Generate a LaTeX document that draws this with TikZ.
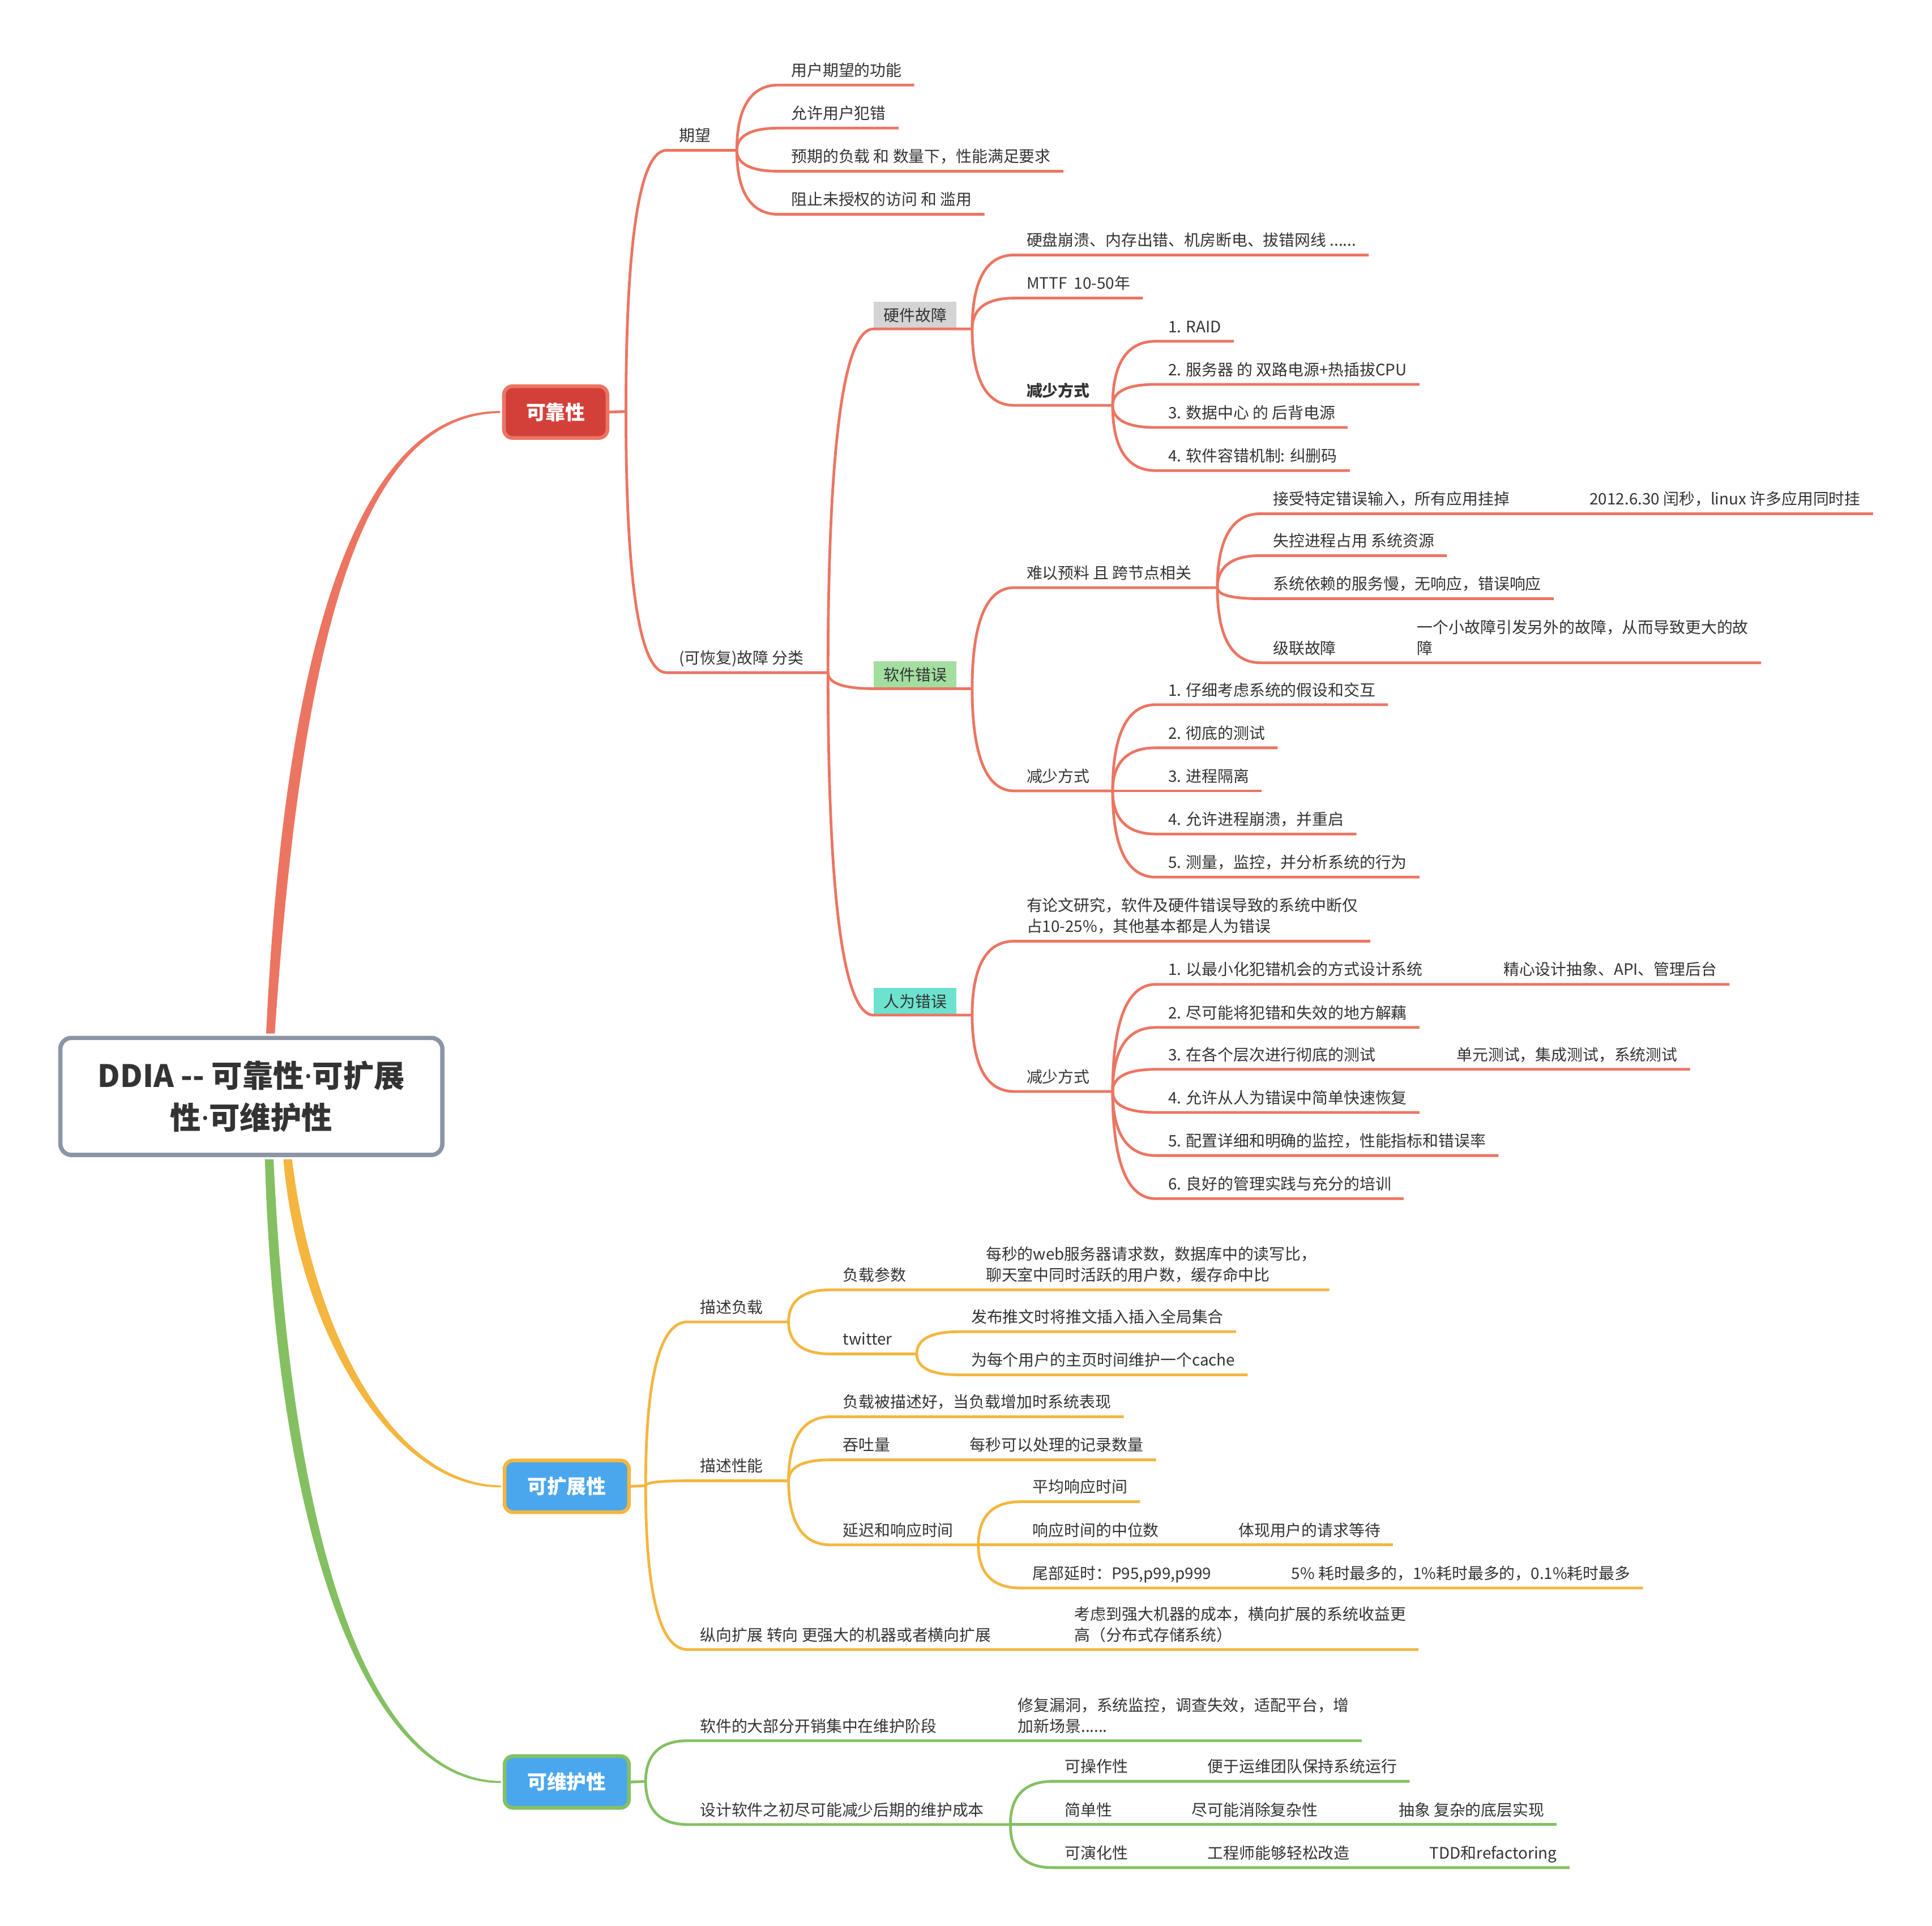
\documentclass[tikz,border=0pt]{standalone}
\usepackage{fontspec}
\setmainfont{Noto Sans CJK SC}
\newfontfamily\dotfont{Noto Sans}
\usetikzlibrary{calc}
\definecolor{relc}{HTML}{EC7562}
\definecolor{relfill}{HTML}{D3403A}
\definecolor{extc}{HTML}{F4B63F}
\definecolor{mntc}{HTML}{84C062}
\definecolor{bluefill}{HTML}{4AA7EE}
\definecolor{rootc}{HTML}{8C95A5}
\definecolor{txtc}{HTML}{333333}
\definecolor{hwfill}{HTML}{D4D4D4}
\definecolor{swfill}{HTML}{A3DEA0}
\definecolor{hufill}{HTML}{6CE2CF}

\begin{document}
\begin{tikzpicture}[x=1pt,y=-1pt,
twig/.style={to path={.. controls ($(\tikztostart)!0.5!(\tikztostart|-\tikztotarget)$) and ($(\tikztostart|-\tikztotarget)!0.2!(\tikztotarget)$) .. (\tikztotarget)}},
topic/.style={anchor=south west,inner xsep=10pt,inner ysep=7pt,text depth=0pt,align=left,text=txtc,font=\fontsize{12.8}{17}\selectfont},
tagbox/.style={anchor=south west,inner xsep=8pt,inner ysep=6pt,text height=10pt,text depth=0pt,text=txtc,font=\fontsize{12.8}{17}\selectfont},
mainbox/.style={line width=3pt,rounded corners=7pt,minimum width=84pt,minimum height=42pt,text=white,font=\fontsize{16}{20}\selectfont\bfseries},
rel/.style={draw=relc,line width=2.2pt},
ext/.style={draw=extc,line width=2.2pt},
mnt/.style={draw=mntc,line width=2.2pt}]
\fill[white] (0,0) rectangle (1568,1563);
\useasboundingbox (0,0) rectangle (1568,1563);

%center topic
\node[draw=rootc,line width=3.5pt,rounded corners=9pt,fill=white,minimum width=310pt,minimum height=95pt,align=center,text=txtc,font=\fontsize{25}{34}\selectfont\bfseries] (root) at (204,890) {DDIA -\kern0pt- 可靠性{\dotfont ·}可扩展\\性{\dotfont ·}可维护性};

\node[mainbox,draw=relc,fill=relfill] (rl) at (451,334.5) {可靠性};
\node[mainbox,draw=extc,fill=bluefill,minimum width=101pt] (ex) at (460,1206.5) {可扩展性};
\node[mainbox,draw=mntc,fill=bluefill,minimum width=101pt] (mt) at (460,1446.5) {可维护性};

\fill[relc] ([xshift=12pt,yshift=1.75pt]root.north) .. controls +(16,-341) and +(-108,-1) .. ([xshift=-1.5pt,yshift=0.8pt]rl.west) -- ([xshift=-1.5pt,yshift=-0.8pt]rl.west) .. controls +(-108,1) and +(23,-341) .. ([xshift=19pt,yshift=1.75pt]root.north) -- cycle;
\fill[extc] ([xshift=26pt,yshift=-1.75pt]root.south) .. controls +(12,140) and +(-88,1) .. ([xshift=-1.5pt,yshift=-0.8pt]ex.west) -- ([xshift=-1.5pt,yshift=0.8pt]ex.west) .. controls +(-88,-1) and +(17,140) .. ([xshift=33pt,yshift=-1.75pt]root.south) -- cycle;
\fill[mntc] ([xshift=11pt,yshift=-1.75pt]root.south) .. controls +(9,310) and +(-108,1) .. ([xshift=-1.5pt,yshift=-0.8pt]mt.west) -- ([xshift=-1.5pt,yshift=0.8pt]mt.west) .. controls +(-108,-1) and +(14,310) .. ([xshift=18pt,yshift=-1.75pt]root.south) -- cycle;

%reliability
\coordinate (rj) at (508,334); \draw[rel] (rl.east) -- (rj);
\node[topic] (qw) at (541,122) {期望}; \coordinate (qwj) at (598,122);
\draw[rel] (rj) to[twig] (qw.south west) -- (qwj);
\node[topic] (qw1) at (632,69) {用户期望的功能};
\node[topic] (qw2) at (632,104) {允许用户犯错};
\node[topic] (qw3) at (632,139) {预期的负载 和 数量下，性能满足要求};
\node[topic] (qw4) at (632,174) {阻止未授权的访问 和 滥用};
\draw[rel] (qwj) to[twig] (qw1.south west) -- (qw1.south east);
\draw[rel] (qwj) to[twig] (qw2.south west) -- (qw2.south east);
\draw[rel] (qwj) to[twig] (qw3.south west) -- (qw3.south east);
\draw[rel] (qwj) to[twig] (qw4.south west) -- (qw4.south east);

\node[topic] (gz) at (541,546) {(可恢复)故障 分类}; \coordinate (gzj) at (672,546);
\draw[rel] (rj) to[twig] (gz.south west) -- (gzj);

%hardware faults
\node[tagbox,fill=hwfill] (hw) at (709,267) {硬件故障}; \coordinate (hwj) at (789,267);
\draw[rel] (gzj) to[twig] (hw.south west) -- (hwj);
\node[topic] (hw1) at (823,207) {硬盘崩溃、内存出错、机房断电、拔错网线 ......};
\node[topic] (hw2) at (823,242) {MTTF\ \ 10-50年};
\node[topic,font=\fontsize{12.8}{17}\selectfont\bfseries] (hw3) at (823,329) {减少方式}; \coordinate (hw3j) at (903,329);
\draw[rel] (hwj) to[twig] (hw1.south west) -- (hw1.south east);
\draw[rel] (hwj) to[twig] (hw2.south west) -- (hw2.south east);
\draw[rel] (hwj) to[twig] (hw3.south west) -- (hw3j);
\node[topic] (hw31) at (938,277) {1. RAID};
\node[topic] (hw32) at (938,312) {2. 服务器 的 双路电源+热插拔CPU};
\node[topic] (hw33) at (938,347) {3. 数据中心 的 后背电源};
\node[topic] (hw34) at (938,382) {4. 软件容错机制: 纠删码};
\draw[rel] (hw3j) to[twig] (hw31.south west) -- (hw31.south east);
\draw[rel] (hw3j) to[twig] (hw32.south west) -- (hw32.south east);
\draw[rel] (hw3j) to[twig] (hw33.south west) -- (hw33.south east);
\draw[rel] (hw3j) to[twig] (hw34.south west) -- (hw34.south east);

%software errors
\node[tagbox,fill=swfill] (sw) at (709,559) {软件错误}; \coordinate (swj) at (789,559);
\draw[rel] (gzj) to[twig] (sw.south west) -- (swj);
\node[topic] (sw1) at (823,477) {难以预料 且 跨节点相关}; \coordinate (sw1j) at (988,477);
\draw[rel] (swj) to[twig] (sw1.south west) -- (sw1j);
\node[topic] (sw11) at (1023,417) {接受特定错误输入，所有应用挂掉}; \node[topic] (sw11b) at (1280,417) {2012.6.30 闰秒，linux 许多应用同时挂};
\node[topic] (sw12) at (1023,451) {失控进程占用 系统资源};
\node[topic] (sw13) at (1023,486) {系统依赖的服务慢，无响应，错误响应};
\node[topic] (sw14) at (1023,538) {级联故障}; \node[topic] (sw14b) at (1140,538) {一个小故障引发另外的故障，从而导致更大的故\\障};
\draw[rel] (sw1j) to[twig] (sw11.south west) -- (sw11b.south east);
\draw[rel] (sw1j) to[twig] (sw12.south west) -- (sw12.south east);
\draw[rel] (sw1j) to[twig] (sw13.south west) -- (sw13.south east);
\draw[rel] (sw1j) to[twig] (sw14.south west) -- (sw14b.south east);
\node[topic] (sw2) at (823,642) {减少方式}; \coordinate (sw2j) at (903,642);
\draw[rel] (swj) to[twig] (sw2.south west) -- (sw2j);
\node[topic] (sw21) at (938,572) {1. 仔细考虑系统的假设和交互};
\node[topic] (sw22) at (938,607) {2. 彻底的测试};
\node[topic] (sw23) at (938,642) {3. 进程隔离};
\node[topic] (sw24) at (938,677) {4. 允许进程崩溃，并重启};
\node[topic] (sw25) at (938,712) {5. 测量，监控，并分析系统的行为};
\draw[rel] (sw2j) to[twig] (sw21.south west) -- (sw21.south east);
\draw[rel] (sw2j) to[twig] (sw22.south west) -- (sw22.south east);
\draw[rel] (sw2j) to[twig] (sw23.south west) -- (sw23.south east);
\draw[rel] (sw2j) to[twig] (sw24.south west) -- (sw24.south east);
\draw[rel] (sw2j) to[twig] (sw25.south west) -- (sw25.south east);

%human errors
\node[tagbox,fill=hufill] (hu) at (709,824) {人为错误}; \coordinate (huj) at (789,824);
\draw[rel] (gzj) to[twig] (hu.south west) -- (huj);
\node[topic] (hu1) at (823,764) {有论文研究，软件及硬件错误导致的系统中断仅\\占10-25\%，其他基本都是人为错误};
\draw[rel] (huj) to[twig] (hu1.south west) -- (hu1.south east);
\node[topic] (hu2) at (823,886) {减少方式}; \coordinate (hu2j) at (903,886);
\draw[rel] (huj) to[twig] (hu2.south west) -- (hu2j);
\node[topic] (hu21) at (938,799) {1. 以最小化犯错机会的方式设计系统}; \node[topic] (hu21b) at (1210,799) {精心设计抽象、API、管理后台};
\node[topic] (hu22) at (938,834) {2. 尽可能将犯错和失效的地方解藕};
\node[topic] (hu23) at (938,868) {3. 在各个层次进行彻底的测试}; \node[topic] (hu23b) at (1172,868) {单元测试，集成测试，系统测试};
\node[topic] (hu24) at (938,903) {4. 允许从人为错误中简单快速恢复};
\node[topic] (hu25) at (938,938) {5. 配置详细和明确的监控，性能指标和错误率};
\node[topic] (hu26) at (938,973) {6. 良好的管理实践与充分的培训};
\draw[rel] (hu2j) to[twig] (hu21.south west) -- (hu21b.south east);
\draw[rel] (hu2j) to[twig] (hu22.south west) -- (hu22.south east);
\draw[rel] (hu2j) to[twig] (hu23.south west) -- (hu23b.south east);
\draw[rel] (hu2j) to[twig] (hu24.south west) -- (hu24.south east);
\draw[rel] (hu2j) to[twig] (hu25.south west) -- (hu25.south east);
\draw[rel] (hu2j) to[twig] (hu26.south west) -- (hu26.south east);

%scalability
\coordinate (xj) at (524,1206); \draw[ext] (ex.east) -- (xj);
\node[topic] (ms) at (558,1073) {描述负载}; \coordinate (msj) at (640,1073);
\draw[ext] (xj) to[twig] (ms.south west) -- (msj);
\node[topic] (ms1) at (674,1047) {负载参数}; \node[topic] (ms1b) at (790,1047) {每秒的web服务器请求数，数据库中的读写比，\\聊天室中同时活跃的用户数，缓存命中比};
\draw[ext] (msj) to[twig] (ms1.south west) -- (ms1b.south east);
\node[topic] (ms2) at (674,1099) {twitter}; \coordinate (ms2j) at (744,1099);
\draw[ext] (msj) to[twig] (ms2.south west) -- (ms2j);
\node[topic] (ms21) at (778,1081) {发布推文时将推文插入插入全局集合};
\node[topic] (ms22) at (778,1116) {为每个用户的主页时间维护一个cache};
\draw[ext] (ms2j) to[twig] (ms21.south west) -- (ms21.south east);
\draw[ext] (ms2j) to[twig] (ms22.south west) -- (ms22.south east);

\node[topic] (pf) at (558,1202) {描述性能}; \coordinate (pfj) at (640,1202);
\draw[ext] (xj) to[twig] (pf.south west) -- (pfj);
\node[topic] (pf1) at (674,1150) {负载被描述好，当负载增加时系统表现};
\node[topic] (pf2) at (674,1185) {吞吐量}; \node[topic] (pf2b) at (777,1185) {每秒可以处理的记录数量};
\node[topic] (pf3) at (674,1254) {延迟和响应时间}; \coordinate (pf3j) at (794,1254);
\draw[ext] (pfj) to[twig] (pf1.south west) -- (pf1.south east);
\draw[ext] (pfj) to[twig] (pf2.south west) -- (pf2b.south east);
\draw[ext] (pfj) to[twig] (pf3.south west) -- (pf3j);
\node[topic] (pf31) at (828,1219) {平均响应时间};
\node[topic] (pf32) at (828,1254) {响应时间的中位数}; \node[topic] (pf32b) at (995,1254) {体现用户的请求等待};
\node[topic] (pf33) at (828,1289) {尾部延时：P95,p99,p999}; \node[topic] (pf33b) at (1038,1289) {5\% 耗时最多的，1\%耗时最多的，0.1\%耗时最多};
\draw[ext] (pf3j) to[twig] (pf31.south west) -- (pf31.south east);
\draw[ext] (pf3j) to[twig] (pf32.south west) -- (pf32b.south east);
\draw[ext] (pf3j) to[twig] (pf33.south west) -- (pf33b.south east);

\node[topic] (sc) at (558,1339) {纵向扩展 转向 更强大的机器或者横向扩展}; \node[topic] (scb) at (862,1339) {考虑到强大机器的成本，横向扩展的系统收益更\\高（分布式存储系统）};
\draw[ext] (xj) to[twig] (sc.south west) -- (scb.south east);

%maintainability
\coordinate (mj) at (524,1446); \draw[mnt] (mt.east) -- (mj);
\node[topic] (mc) at (558,1413) {软件的大部分开销集中在维护阶段}; \node[topic] (mcb) at (816,1413) {修复漏洞，系统监控，调查失效，适配平台，增\\加新场景......};
\draw[mnt] (mj) to[twig] (mc.south west) -- (mcb.south east);
\node[topic] (ds) at (558,1481) {设计软件之初尽可能减少后期的维护成本}; \coordinate (dsj) at (820,1481);
\draw[mnt] (mj) to[twig] (ds.south west) -- (dsj);
\node[topic] (ds1) at (854,1446) {可操作性}; \node[topic] (ds1b) at (970,1446) {便于运维团队保持系统运行};
\node[topic] (ds2) at (854,1481) {简单性}; \node[topic] (ds2b) at (957,1481) {尽可能消除复杂性}; \node[topic] (ds2c) at (1125,1481) {抽象 复杂的底层实现};
\node[topic] (ds3) at (854,1516) {可演化性}; \node[topic] (ds3b) at (970,1516) {工程师能够轻松改造}; \node[topic] (ds3c) at (1150,1516) {TDD和refactoring};
\draw[mnt] (dsj) to[twig] (ds1.south west) -- (ds1b.south east);
\draw[mnt] (dsj) to[twig] (ds2.south west) -- (ds2c.south east);
\draw[mnt] (dsj) to[twig] (ds3.south west) -- (ds3c.south east);
\end{tikzpicture}
\end{document}
